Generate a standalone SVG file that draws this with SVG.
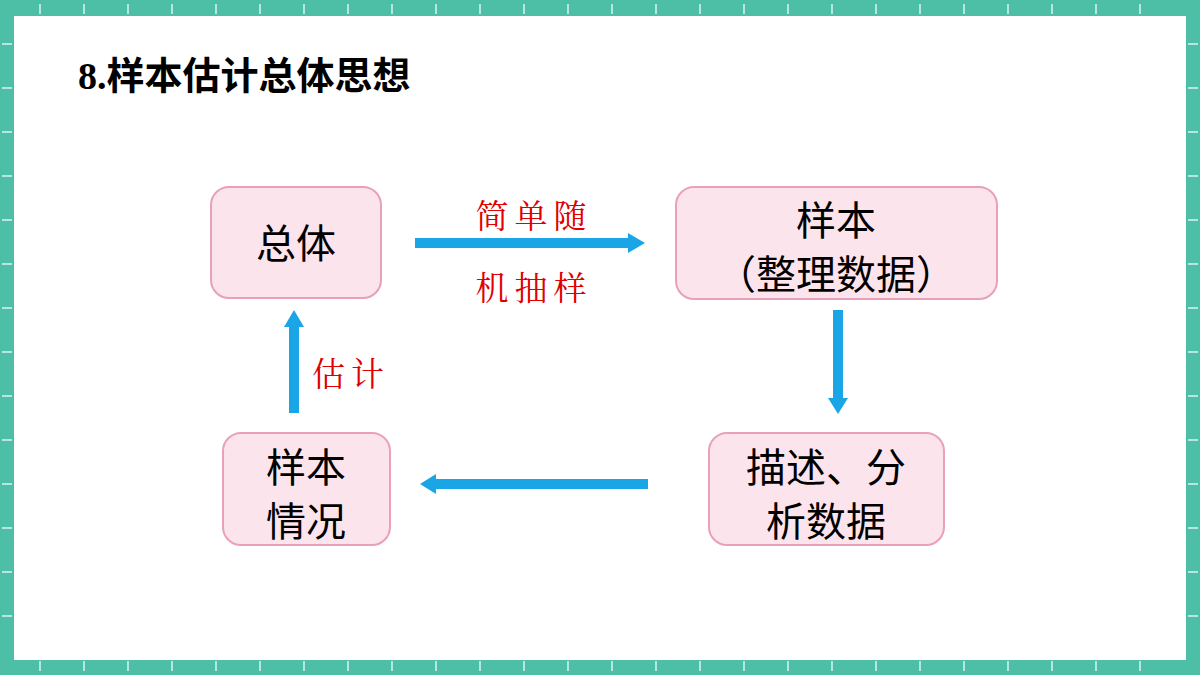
<svg xmlns="http://www.w3.org/2000/svg" width="1200" height="675" viewBox="0 0 1200 675">
<style>
.box{fill:#fce4ec;stroke:#e8a0bc;stroke-width:2}
.t{font-family:"Noto Sans CJK SC","Noto Sans",sans-serif;font-size:40px;fill:#000;text-anchor:middle}
.r{font-family:"Noto Serif CJK SC","Noto Sans CJK SC",serif;font-size:33px;letter-spacing:6px;fill:#e00000;text-anchor:middle}
.ln{stroke:#1aa6e6;stroke-width:10;fill:none}
.tick{stroke:#b5e8dc;stroke-width:2}
</style>
<rect width="1200" height="675" fill="#4cbfa6"/>
<g class="tick">
<path d="M40 4v10M84 4v10M128 4v10M172 4v10M216 4v10M260 4v10M304 4v10M348 4v10M392 4v10M436 4v10M480 4v10M524 4v10M568 4v10M612 4v10M656 4v10M700 4v10M744 4v10M788 4v10M832 4v10M876 4v10M920 4v10M964 4v10M1008 4v10M1052 4v10M1096 4v10M1140 4v10"/>
<path d="M40 661v10M84 661v10M128 661v10M172 661v10M216 661v10M260 661v10M304 661v10M348 661v10M392 661v10M436 661v10M480 661v10M524 661v10M568 661v10M612 661v10M656 661v10M700 661v10M744 661v10M788 661v10M832 661v10M876 661v10M920 661v10M964 661v10M1008 661v10M1052 661v10M1096 661v10M1140 661v10"/>
<path d="M2 44h10M2 88h10M2 132h10M2 176h10M2 220h10M2 264h10M2 308h10M2 352h10M2 396h10M2 440h10M2 484h10M2 528h10M2 572h10M2 616h10"/>
<path d="M1188 44h10M1188 88h10M1188 132h10M1188 176h10M1188 220h10M1188 264h10M1188 308h10M1188 352h10M1188 396h10M1188 440h10M1188 484h10M1188 528h10M1188 572h10M1188 616h10"/>
</g>
<rect x="14" y="16" width="1172" height="644" fill="#fff"/>
<text x="78" y="89" font-family="'Liberation Serif','Noto Sans CJK SC',serif" font-weight="bold" font-size="38">8.<tspan font-family="'Noto Sans CJK SC',sans-serif">样本估计总体思想</tspan></text>
<g id="connectors">
<line class="ln" x1="415" y1="243" x2="630" y2="243"/><polygon points="628,233 645,243 628,253" fill="#1aa6e6"/>
<line class="ln" x1="838" y1="310" x2="838" y2="400"/><polygon points="828,398 838,414 848,398" fill="#1aa6e6"/>
<line class="ln" x1="648" y1="484" x2="434" y2="484"/><polygon points="436,474 420,484 436,494" fill="#1aa6e6"/>
<line class="ln" x1="294" y1="413" x2="294" y2="325"/><polygon points="284,327 294,310 304,327" fill="#1aa6e6"/>
<text class="r" x="534" y="228">简单随</text>
<text class="r" x="534" y="300">机抽样</text>
<text class="r" x="351" y="386">估计</text>
</g>
<g id="n1"><rect class="box" x="211" y="187" width="170" height="111" rx="18"/><text class="t" x="296" y="258">总体</text></g>
<g id="n2"><rect class="box" x="676" y="187" width="321" height="112" rx="18"/><text class="t" x="836" y="235">样本</text><text class="t" x="836" y="289">（整理数据）</text></g>
<g id="n3"><rect class="box" x="709" y="433" width="235" height="112" rx="18"/><text class="t" x="826" y="482">描述、分</text><text class="t" x="826" y="536">析数据</text></g>
<g id="n4"><rect class="box" x="223" y="433" width="167" height="112" rx="18"/><text class="t" x="306" y="482">样本</text><text class="t" x="306" y="536">情况</text></g>
</svg>
